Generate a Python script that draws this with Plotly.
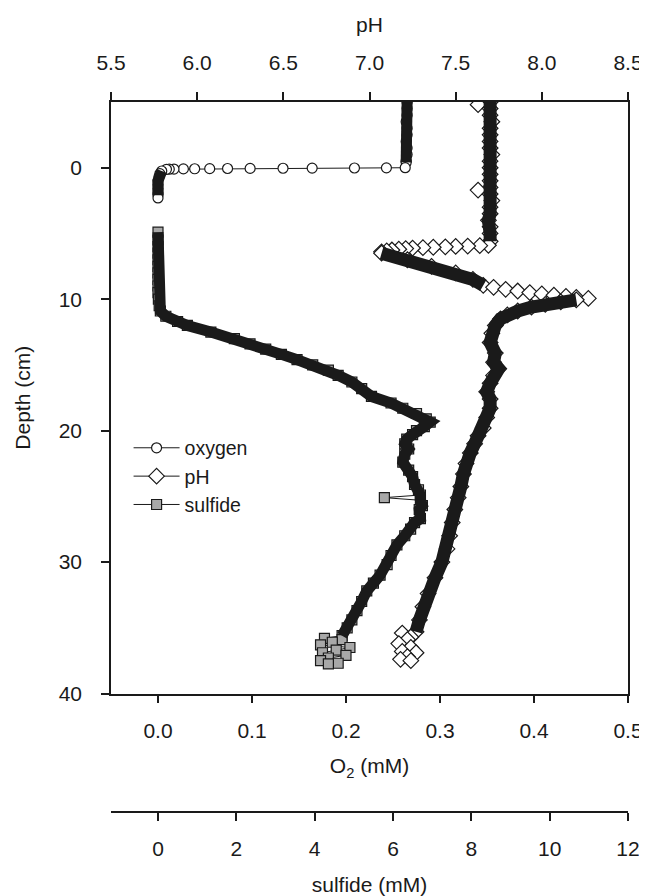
import plotly.graph_objects as go

# ---------------- data ----------------
# Oxygen (mM) vs depth (cm)
oxy_surface_depth = [-5.0, -4.5, -4.0, -3.5, -3.0, -2.5, -2.0, -1.5, -1.0, -0.5, -0.4]
oxy_surface = [0.265, 0.265, 0.265, 0.264, 0.265, 0.265, 0.264, 0.265, 0.265, 0.264, 0.264]
oxy_drop_depth = [0.0, 0.01, 0.02, 0.03, 0.04, 0.05, 0.06, 0.07, 0.08, 0.09, 0.10, 0.11, 0.12]
oxy_drop = [0.263, 0.243, 0.209, 0.164, 0.133, 0.098, 0.074, 0.055, 0.039, 0.027, 0.017, 0.012, 0.009]
oxy_anoxic_depth = [0.25, 0.45, 0.7, 1.0, 1.3, 1.6, 1.9, 2.1]
oxy_anoxic = [0.004, 0.002, 0.001, 0.0, 0.0, 0.0, 0.0, 0.0]
oxy_last_depth = [2.3]
oxy_last = [0.0]

# pH vs depth (cm)
ph_surface_depth = [-5.0, -4.5, -4.0, -3.5, -3.0, -2.5, -2.0, -1.5, -1.0, -0.5, 0.0,
                    0.5, 1.0, 1.5, 2.0, 2.5, 3.0, 3.5, 4.0, 4.5, 5.0, 5.6]
ph_surface = [7.70, 7.70, 7.70, 7.71, 7.70, 7.70, 7.70, 7.70, 7.71, 7.70, 7.70,
              7.70, 7.70, 7.70, 7.70, 7.71, 7.70, 7.70, 7.69, 7.70, 7.70, 7.70]
ph_outlier_depth = [-4.8, 1.7]
ph_outlier = [7.63, 7.63]
ph_shelf_depth = [5.9, 5.93, 5.96, 5.99, 6.02, 6.05, 6.08, 6.11, 6.15, 6.2, 6.26, 6.33, 6.4]
ph_shelf = [7.69, 7.64, 7.57, 7.50, 7.44, 7.37, 7.31, 7.25, 7.21, 7.17, 7.13, 7.10, 7.07]
ph_bulge_depth = [6.5, 7.0, 7.5, 8.0, 8.5, 8.95]
ph_bulge = [7.07, 7.22, 7.36, 7.50, 7.60, 7.66]
ph_tip_depth = [9.1, 9.25, 9.38, 9.5, 9.6, 9.7, 9.79, 9.87, 9.94]
ph_tip = [7.72, 7.79, 7.86, 7.93, 8.00, 8.07, 8.14, 8.20, 8.27]
ph_return_depth = [10.05, 10.2, 10.4, 10.6, 10.9, 11.2, 11.5, 12.0, 12.6, 13.3,
                   14.1, 14.8, 15.3, 15.8, 16.4, 17.05, 17.6, 18.3, 19.0, 19.8,
                   20.4, 21.0, 21.7, 22.5, 23.3, 24.25, 25.1, 26.0, 27.0, 28.0,
                   29.0, 30.0, 31.2, 32.4, 33.4, 34.4, 35.3]
ph_return = [8.20, 8.11, 8.02, 7.94, 7.86, 7.80, 7.76, 7.73, 7.71, 7.70,
             7.73, 7.72, 7.75, 7.72, 7.70, 7.68, 7.70, 7.70, 7.68, 7.66,
             7.63, 7.61, 7.585, 7.56, 7.545, 7.53, 7.515, 7.495, 7.48, 7.465,
             7.45, 7.42, 7.38, 7.34, 7.31, 7.29, 7.27]
ph_bottom_depth = [35.4, 35.7, 35.9, 36.2, 36.5, 36.8, 36.9, 37.2, 37.4, 37.5]
ph_bottom = [7.19, 7.24, 7.22, 7.17, 7.24, 7.19, 7.27, 7.22, 7.18, 7.24]

# Sulfide (mM) vs depth (cm)
sulfide_upper_depth = [4.9, 5.5, 6.0, 6.5, 7.0, 7.5, 8.0, 8.5, 9.0, 9.5,
                       10.0, 10.5, 10.9, 11.3, 11.7, 12.0, 12.5, 13.0, 13.4, 13.8,
                       14.2, 14.6, 15.0, 15.4, 15.8, 16.3, 16.8, 17.4, 17.9, 18.3,
                       18.7, 19.1, 19.35, 19.7, 20.0, 20.3, 20.65, 21.0, 21.4, 21.8,
                       22.4, 23.0, 23.5, 24.1, 24.5, 24.9]
sulfide_upper = [0.0, 0.0, 0.0, 0.0, 0.0, 0.0, 0.0, 0.0, 0.0, 0.0,
                 0.01, 0.03, 0.06, 0.2, 0.5, 0.75, 1.35, 1.95, 2.35, 2.75,
                 3.15, 3.55, 3.95, 4.35, 4.6, 4.95, 5.2, 5.45, 5.95, 6.25,
                 6.6, 6.85, 6.95, 6.8, 6.6, 6.5, 6.35, 6.3, 6.4, 6.3,
                 6.25, 6.4, 6.5, 6.55, 6.65, 6.7]
sulfide_outlier_depth = [25.1]
sulfide_outlier = [5.78]
sulfide_lower_depth = [25.3, 25.7, 26.0, 26.7, 27.0, 27.5, 28.0, 28.7, 29.5, 30.2,
                       31.0, 31.6, 32.2, 33.0, 33.7, 34.4, 35.0, 35.6]
sulfide_lower = [6.7, 6.75, 6.67, 6.7, 6.55, 6.45, 6.3, 6.1, 5.95, 5.85,
                 5.67, 5.5, 5.33, 5.2, 5.08, 4.95, 4.83, 4.7]
sulfide_bottom_depth = [35.8, 35.9, 36.1, 36.3, 36.5, 36.7, 36.9, 37.1, 37.3, 37.5, 37.7, 37.75]
sulfide_bottom = [4.25, 4.7, 4.45, 4.15, 4.9, 4.55, 4.2, 4.8, 4.35, 4.15, 4.6, 4.35]

# axis ticks
depth_ticks = [0, 10, 20, 30, 40]
o2_ticks = [0.0, 0.1, 0.2, 0.3, 0.4, 0.5]
ph_ticks = [5.5, 6.0, 6.5, 7.0, 7.5, 8.0, 8.5]
sulfide_ticks = [0, 2, 4, 6, 8, 10, 12]


def merged(*pairs):
    pts = []
    for d, v in pairs:
        pts.extend(zip(d, v))
    pts.sort(key=lambda p: p[0])
    return [p[1] for p in pts], [p[0] for p in pts]


def banded(*pairs):
    xs, ys = [], []
    for d, v in pairs:
        xs += list(v) + [None]
        ys += list(d) + [None]
    return xs, ys


FONT = "Liberation Sans, Arial, Helvetica, sans-serif"
INK = "#1a1a1a"
TICK_SIZE = 21

fig = go.Figure()

ox, oy = merged((oxy_surface_depth, oxy_surface), (oxy_drop_depth, oxy_drop),
                (oxy_anoxic_depth, oxy_anoxic), (oxy_last_depth, oxy_last))
fig.add_trace(go.Scatter(
    x=ox, y=oy, name="oxygen", mode="lines+markers", xaxis="x", yaxis="y",
    line=dict(color=INK, width=1),
    marker=dict(symbol="circle", size=10, color="white", line=dict(color=INK, width=1.2))))

px, py = merged((ph_surface_depth, ph_surface), (ph_outlier_depth, ph_outlier),
                (ph_shelf_depth, ph_shelf), (ph_bulge_depth, ph_bulge),
                (ph_tip_depth, ph_tip), (ph_return_depth, ph_return),
                (ph_bottom_depth, ph_bottom))
fig.add_trace(go.Scatter(
    x=px, y=py, name="pH", mode="lines+markers", xaxis="x2", yaxis="y",
    line=dict(color=INK, width=1),
    marker=dict(symbol="diamond", size=12, color="white", line=dict(color=INK, width=1.2))))

sx, sy = merged((sulfide_upper_depth, sulfide_upper), (sulfide_outlier_depth, sulfide_outlier),
                (sulfide_lower_depth, sulfide_lower), (sulfide_bottom_depth, sulfide_bottom))
fig.add_trace(go.Scatter(
    x=sx, y=sy, name="sulfide", mode="lines+markers", xaxis="x3", yaxis="y",
    line=dict(color=INK, width=1),
    marker=dict(symbol="square", size=10, color="#a8a8a8", line=dict(color=INK, width=1.2))))

# dense stretches of overlapping markers render as solid black bands
bx, by = banded((oxy_surface_depth, oxy_surface), (oxy_anoxic_depth, oxy_anoxic))
fig.add_trace(go.Scatter(x=bx, y=by, mode="lines", xaxis="x", yaxis="y", showlegend=False,
                         hoverinfo="skip", line=dict(color=INK, width=11)))
bx, by = banded((ph_surface_depth, ph_surface), (ph_bulge_depth, ph_bulge),
                (ph_return_depth, ph_return))
fig.add_trace(go.Scatter(x=bx, y=by, mode="lines", xaxis="x2", yaxis="y", showlegend=False,
                         hoverinfo="skip", line=dict(color=INK, width=13)))
bx, by = banded((sulfide_upper_depth + sulfide_lower_depth, sulfide_upper + sulfide_lower))
fig.add_trace(go.Scatter(x=bx, y=by, mode="lines", xaxis="x3", yaxis="y", showlegend=False,
                         hoverinfo="skip", line=dict(color=INK, width=11)))

axis_common = dict(showline=True, linecolor=INK, linewidth=1.5, ticks="outside", ticklen=8,
                   tickwidth=1.5, tickcolor=INK, showgrid=False, zeroline=False,
                   tickfont=dict(family=FONT, size=TICK_SIZE, color=INK))

fig.update_layout(
    width=647, height=896,
    margin=dict(l=103, r=17, t=94, b=77),
    paper_bgcolor="white", plot_bgcolor="white",
    font=dict(family=FONT, size=TICK_SIZE, color=INK),
    hovermode=False,
    showlegend=True,
    legend=dict(x=0.034, y=0.540, xanchor="left", yanchor="top", bgcolor="rgba(0,0,0,0)",
                font=dict(family=FONT, size=19.5, color=INK), tracegroupgap=0, itemwidth=46),
    yaxis=dict(range=[40, -5], domain=[0.1669, 1], tickvals=depth_ticks, mirror=True,
               ticklabelstandoff=15,
               title=dict(text="Depth (cm)", font=dict(family=FONT, size=TICK_SIZE), standoff=22),
               **axis_common),
    xaxis=dict(range=[-0.05, 0.5], anchor="y", tickvals=o2_ticks, tickformat=".1f",
               ticklabelstandoff=10,
               title=dict(text="O<sub>2</sub> (mM)", font=dict(family=FONT, size=TICK_SIZE),
                          standoff=17),
               **axis_common),
    xaxis2=dict(range=[5.5, 8.5], anchor="y", overlaying="x", side="top", tickvals=ph_ticks,
                tickformat=".1f", ticklabelstandoff=14,
                title=dict(text="pH", font=dict(family=FONT, size=TICK_SIZE), standoff=12),
                **axis_common),
    xaxis3=dict(range=[-1.2, 12], anchor="free", position=0, overlaying="x", side="bottom",
                tickvals=sulfide_ticks, ticklabelstandoff=10,
                title=dict(text="sulfide (mM)", font=dict(family=FONT, size=TICK_SIZE),
                           standoff=17),
                **axis_common),
)

fig.write_html("out.html")
